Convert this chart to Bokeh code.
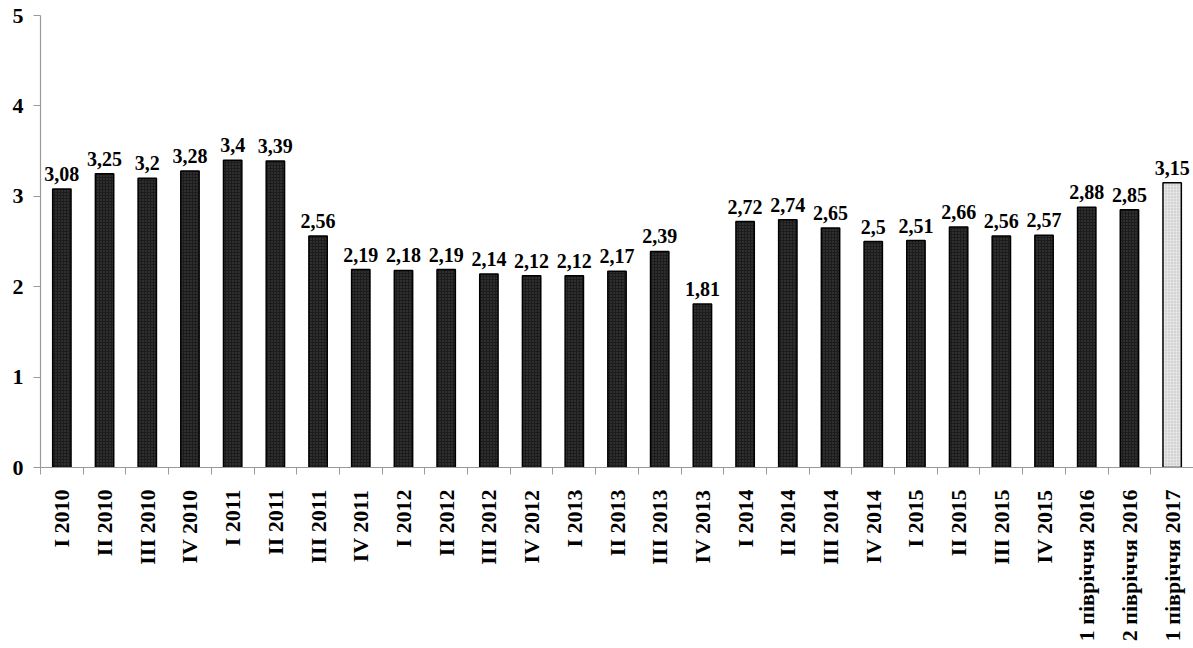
import math
from bokeh.plotting import figure
from bokeh.models import ColumnDataSource, FixedTicker, Range1d
from bokeh.core.properties import value
from bokeh.embed import file_html
from bokeh.resources import INLINE

categories = [
    "I 2010", "II 2010", "III 2010", "IV 2010",
    "I 2011", "II 2011", "III 2011", "IV 2011",
    "I 2012", "II 2012", "III 2012", "IV 2012",
    "I 2013", "II 2013", "III 2013", "IV 2013",
    "I 2014", "II 2014", "III 2014", "IV 2014",
    "I 2015", "II 2015", "III 2015", "IV 2015",
    "1 півріччя 2016", "2 півріччя 2016", "1 півріччя 2017",
]
values = [
    3.08, 3.25, 3.2, 3.28,
    3.4, 3.39, 2.56, 2.19,
    2.18, 2.19, 2.14, 2.12,
    2.12, 2.17, 2.39, 1.81,
    2.72, 2.74, 2.65, 2.5,
    2.51, 2.66, 2.56, 2.57,
    2.88, 2.85, 3.15,
]
y_ticks = [0, 1, 2, 3, 4, 5]

FONT = "Liberation Serif"
n = len(categories)
centers = [i + 0.5 for i in range(n)]
bounds = [float(i) for i in range(n + 1)]
labels = [str(v).replace(".", ",") for v in values]

dark = dict(x=centers[:-1], top=values[:-1], label=labels[:-1])
light = dict(x=centers[-1:], top=values[-1:], label=labels[-1:])

p = figure(
    width=1193, height=648,
    x_range=Range1d(0, n), y_range=Range1d(0, 5),
    output_backend="svg", toolbar_location=None,
    min_border_left=40, min_border_right=0,
    min_border_top=15, min_border_bottom=181,
)
p.outline_line_color = None
p.xgrid.visible = False
p.ygrid.visible = False

src_dark = ColumnDataSource(dark)
src_light = ColumnDataSource(light)

p.vbar(x="x", top="top", width=0.43, source=src_dark,
       fill_color="#1c1c1c", line_color="black", line_width=1.5,
       hatch_pattern=".", hatch_color="#4a4a4a", hatch_scale=3, hatch_weight=1)
p.vbar(x="x", top="top", width=0.43, source=src_light,
       fill_color="#e4e4e4", line_color="black", line_width=1.5,
       hatch_pattern=".", hatch_color="#b8b8b8", hatch_scale=3, hatch_weight=1)

for src in (src_dark, src_light):
    p.text(x="x", y="top", text="label", source=src,
           text_font=value(FONT), text_font_style="bold",
           text_font_size="20px", text_align="center",
           text_baseline="bottom", y_offset=-8, text_color="black")

# x axis: labels at category centres, small ticks at category boundaries
xa = p.xaxis[0]
xa.ticker = FixedTicker(ticks=centers, minor_ticks=bounds)
xa.major_label_overrides = {c: lab for c, lab in zip(centers, categories)}
xa.major_label_orientation = math.pi / 2
xa.major_label_text_font = FONT
xa.major_label_text_font_style = "bold"
xa.major_label_text_font_size = "22px"
xa.major_label_text_color = "black"
xa.major_label_standoff = 15
xa.major_tick_out = 0
xa.major_tick_in = 0
xa.minor_tick_out = 7
xa.minor_tick_in = 0
xa.minor_tick_line_color = "#9a9a9a"
xa.axis_line_color = "#9a9a9a"
xa.axis_line_width = 1.2

ya = p.yaxis[0]
ya.ticker = FixedTicker(ticks=y_ticks, minor_ticks=[])
ya.major_label_text_font = FONT
ya.major_label_text_font_style = "bold"
ya.major_label_text_font_size = "22px"
ya.major_label_text_color = "black"
ya.major_label_standoff = 10
ya.major_tick_out = 7
ya.major_tick_in = 0
ya.major_tick_line_color = "#9a9a9a"
ya.axis_line_color = "#9a9a9a"
ya.axis_line_width = 1.2

open("out.html", "w").write(file_html(p, INLINE))
